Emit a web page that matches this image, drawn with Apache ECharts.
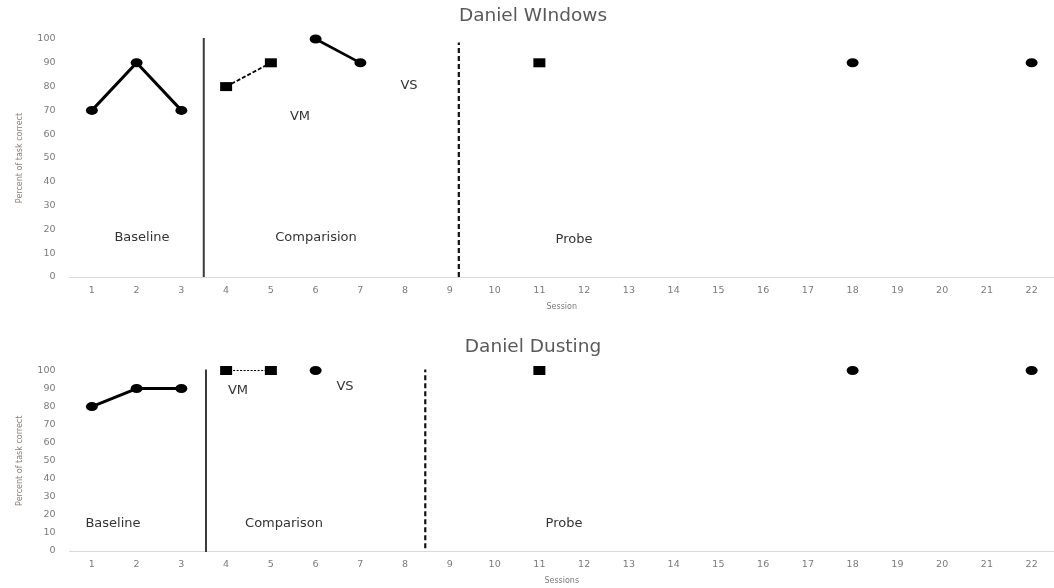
<!DOCTYPE html>
<html>
<head>
<meta charset="utf-8">
<script src="https://cdn.jsdelivr.net/npm/echarts@6/dist/echarts.min.js"></script>
<style>html,body{margin:0;padding:0;background:#fff}#c{width:1054px;height:588px}</style>
</head>
<body>
<div id="c"></div>
<script>
// ---------- data ----------
const sessions = ['1','2','3','4','5','6','7','8','9','10','11','12','13','14','15','16','17','18','19','20','21','22'];
const yTicks = [0,10,20,30,40,50,60,70,80,90,100];

// Daniel WIndows
const winBaseline = [[1,70],[2,90],[3,70]];
const winVM = [[4,80],[5,90]];
const winVS = [[6,100],[7,90]];
const winProbeVM = [[11,90]];
const winProbeVS = [[18,90],[22,90]];
const winPhaseSolid = 3.5;
const winPhaseDashed = 9.2;

// Daniel Dusting
const dusBaseline = [[1,80],[2,90],[3,90]];
const dusVM = [[4,100],[5,100]];
const dusVS = [[6,100]];
const dusProbeVM = [[11,100]];
const dusProbeVS = [[18,100],[22,100]];
const dusPhaseSolid = 3.55;
const dusPhaseDashed = 8.45;

// ---------- chart ----------
const FONT = 'DejaVu Sans';
const circle = 'path://M0,5a5,5 0 1,0 10,0a5,5 0 1,0 -10,0z';
const chart = echarts.init(document.getElementById('c'), null, {renderer:'canvas'});

function xCat(gi, name){
  return {type:'category', gridIndex:gi, data:sessions, boundaryGap:true,
    axisLine:{show:true, lineStyle:{color:'#d9d9d9', width:1}},
    axisTick:{show:false},
    axisLabel:{color:'#7a7a7a', fontFamily:FONT, fontSize:9.5, margin:9},
    name:name, nameLocation:'middle', nameGap:26,
    nameTextStyle:{color:'#7a7a7a', fontFamily:FONT, fontSize:8}};
}
function xVal(gi){
  return {type:'value', gridIndex:gi, min:0.5, max:22.5, show:false};
}
function yAx(gi){
  return {type:'value', gridIndex:gi, min:0, max:100, interval:10,
    axisLine:{show:false}, axisTick:{show:false}, splitLine:{show:false},
    axisLabel:{color:'#7a7a7a', fontFamily:FONT, fontSize:9.5, margin:14},
    name:'Percent of task correct', nameLocation:'middle', nameGap:46, nameRotate:90,
    nameTextStyle:{color:'#8a7f76', fontFamily:FONT, fontSize:8}};
}
function lineSeries(xi, yi, data, width, type, sym, size){
  return {type:'line', xAxisIndex:xi, yAxisIndex:yi, data:data, silent:true,
    symbol:sym, symbolSize:size, showSymbol:true,
    itemStyle:{color:'#000', opacity:1}, lineStyle:{color:'#000', width:width, type:type}, z:5};
}
function dots(xi, yi, data, sym){
  return {type:'scatter', xAxisIndex:xi, yAxisIndex:yi, data:data, silent:true,
    symbol:sym, symbolSize:[12,9], itemStyle:{color:'#000', opacity:1}, z:5};
}
function phaseLine(xi, yi, x, y0, y1, type, width, color){
  return {type:'line', xAxisIndex:xi, yAxisIndex:yi, data:[[x,y0],[x,y1]], silent:true,
    symbol:'none', lineStyle:{color:color, width:width, type:type}, z:4};
}
function note(x, y, text){
  return {type:'text', x:x, y:y, style:{text:text, fill:'#333', font:'13px "DejaVu Sans"', textAlign:'center', textVerticalAlign:'middle'}};
}

const option = {
  animation:false,
  grid:[
    {left:69.5, right:-11, top:39, bottom:311},
    {left:69.5, right:-11, top:370.5, bottom:37}
  ],
  xAxis:[xCat(0,'Session'), xVal(0), xCat(1,'Sessions'), xVal(1)],
  yAxis:[yAx(0), yAx(1)],
  series:[
    phaseLine(1,0,winPhaseSolid,0,103.8,'solid',2,'#3a3a3a'),
    phaseLine(1,0,winPhaseDashed,0,98.5,[5,3],2.2,'#111'),
    lineSeries(1,0,winBaseline,3,'solid',circle,[12,9]),
    lineSeries(1,0,winVM,1.8,[4,2],'rect',[12,9]),
    lineSeries(1,0,winVS,2.6,'solid',circle,[12,9]),
    dots(1,0,winProbeVM,'rect'),
    dots(1,0,winProbeVS,circle),

    phaseLine(3,1,dusPhaseSolid,-2.2,103,'solid',2,'#3a3a3a'),
    phaseLine(3,1,dusPhaseDashed,1.5,104,[5,3],2.2,'#111'),
    lineSeries(3,1,dusBaseline,3,'solid',circle,[12,9]),
    lineSeries(3,1,dusVM,1,[2,1.5],'rect',[12,9]),
    dots(3,1,dusVS,circle),
    dots(3,1,dusProbeVM,'rect'),
    dots(3,1,dusProbeVS,circle)
  ],
  graphic:[
    {type:'text', x:533, y:16, style:{text:'Daniel WIndows', fill:'#595959', font:'18.5px "DejaVu Sans"', textAlign:'center', textVerticalAlign:'middle'}},
    {type:'text', x:533, y:347, style:{text:'Daniel Dusting', fill:'#595959', font:'18.5px "DejaVu Sans"', textAlign:'center', textVerticalAlign:'middle'}},

    note(142, 238, 'Baseline'),
    note(316, 238, 'Comparision'),
    note(300, 117, 'VM'),
    note(409, 86, 'VS'),
    note(574, 240, 'Probe'),

    note(113, 524, 'Baseline'),
    note(284, 524, 'Comparison'),
    note(238, 391, 'VM'),
    note(345, 387, 'VS'),
    note(564, 524, 'Probe')
  ]
};
chart.setOption(option);
</script>
</body>
</html>
